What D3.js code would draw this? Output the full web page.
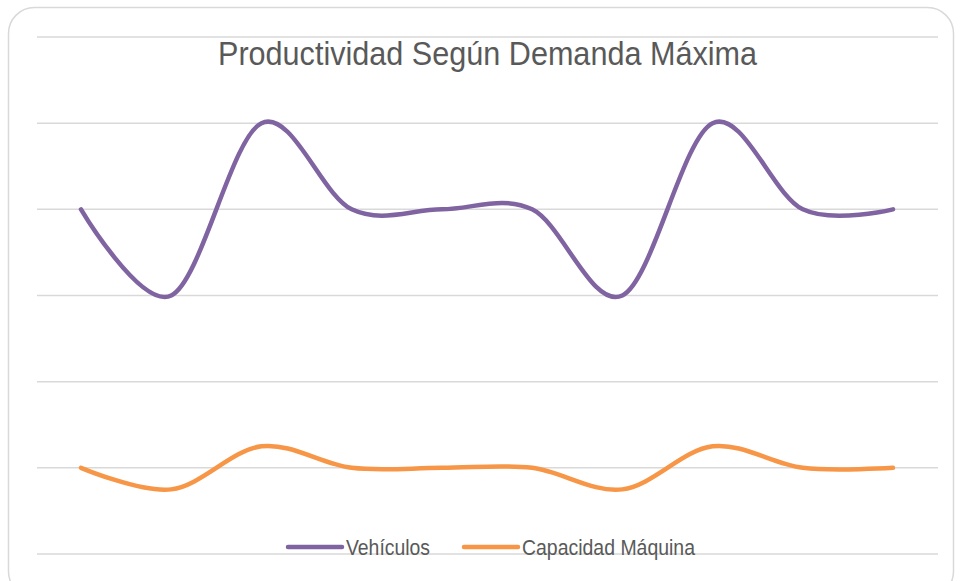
<!DOCTYPE html>
<html>
<head>
<meta charset="utf-8">
<script src="https://cdnjs.cloudflare.com/ajax/libs/d3/7.8.5/d3.min.js"></script>
<style>
  body { margin: 0; background: #fff; }
  svg text { font-family: "Liberation Sans Narrow", "Liberation Sans", Arial, sans-serif; fill: #595959; }
</style>
</head>
<body>
<div id="chart"></div>
<script>
// data
var categories = [1, 2, 3, 4, 5, 6, 7, 8, 9, 10];
var vehiculos = [4, 3, 5, 4, 4, 4, 3, 5, 4, 4];
var capacidad = [1, 0.75, 1.25, 1, 1, 1, 0.75, 1.25, 1, 1];
var gridValues = [0, 1, 2, 3, 4, 5, 6];
var seriesNames = ["Vehículos", "Capacidad Máquina"];
var seriesColors = ["#8064a2", "#f79646"];

var W = 960, H = 581;
var svg = d3.select("#chart").append("svg")
	.attr("width", W)
	.attr("height", H);

// chart border
svg.append("rect")
	.attr("x", 8.5).attr("y", 7.5)
	.attr("width", 945).attr("height", 590)
	.attr("rx", 26).attr("ry", 26)
	.attr("fill", "#fff")
	.attr("stroke", "#d9d9d9")
	.attr("stroke-width", 1.5);

var plot = {left: 37, right: 938, top: 37, bottom: 554};

var x = d3.scalePoint()
	.domain(categories)
	.range([81, 893]);

var y = d3.scaleLinear()
	.domain([0, 6])
	.range([plot.bottom, plot.top]);

// gridlines
svg.append("g").selectAll("line")
	.data(gridValues)
	.enter().append("line")
	.attr("x1", plot.left).attr("x2", plot.right)
	.attr("y1", function(d){ return y(d); })
	.attr("y2", function(d){ return y(d); })
	.attr("stroke", "#d9d9d9")
	.attr("stroke-width", 1.5);

var line = d3.line()
	.x(function(d, i){ return x(categories[i]); })
	.y(function(d){ return y(d); })
	.curve(d3.curveCardinal.tension(0));

[vehiculos, capacidad].forEach(function(s, k){
	svg.append("path")
		.datum(s)
		.attr("d", line)
		.attr("fill", "none")
		.attr("stroke", seriesColors[k])
		.attr("stroke-width", 4.5)
		.attr("stroke-linecap", "round")
		.attr("stroke-linejoin", "round");
});

// title (narrow look, squeezed to the reference width)
svg.append("text")
	.attr("x", 218).attr("y", 65)
	.attr("textLength", 539)
	.attr("lengthAdjust", "spacingAndGlyphs")
	.style("font-size", "34px")
	.text("Productividad Según Demanda Máxima");

// legend
var legendX = [287, 463];
var legendLen = [84, 173];
seriesNames.forEach(function(n, k){
	var g = svg.append("g").attr("transform", "translate(" + legendX[k] + ",547)");
	g.append("line")
		.attr("x1", 1).attr("x2", 55)
		.attr("stroke", seriesColors[k])
		.attr("stroke-width", 4.5)
		.attr("stroke-linecap", "round");
	g.append("text")
		.attr("x", 59).attr("y", 8)
		.attr("textLength", legendLen[k])
		.attr("lengthAdjust", "spacingAndGlyphs")
		.style("font-size", "22px")
		.text(n);
});
</script>
</body>
</html>
